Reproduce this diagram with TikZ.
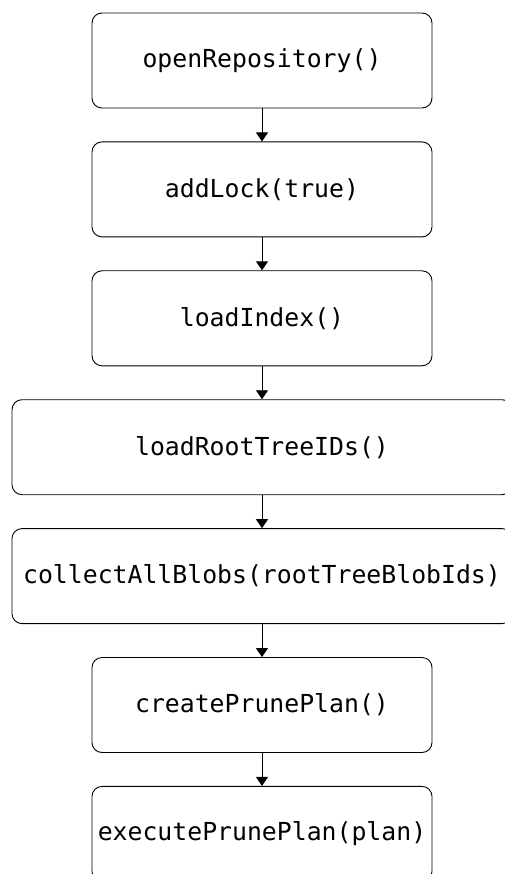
\documentclass[tikz,border=0pt]{standalone}
\usepackage{fontspec}
\setmonofont{DejaVu Sans Mono}
\usepackage{tikz}
\usetikzlibrary{positioning,arrows.meta}
\newcommand{\callnode}[4]{
	\node[callbox, minimum width=#4pt] (#1) [#2] {#3};
}

\begin{document}
\begin{tikzpicture}[x=1pt,y=-1pt,
	callbox/.style={draw, rounded corners=10pt, line width=0.9pt, minimum height=95pt, inner sep=0pt,
		font=\ttfamily\fontsize{24.8}{29}\selectfont},
	flow/.style={-{Triangle[length=9pt,width=12pt]}, line width=0.9pt}]
		\clip (0,0) rectangle (505,874);
		
		\node[callbox, minimum width=340pt] (open) at (262,60.5) {openRepository()};
		\callnode{lock}{below=33pt of open}{addLock(true)}{340};
		\callnode{index}{below=33pt of lock}{loadIndex()}{340};
		\callnode{roots}{below=33pt of index}{loadRootTreeIDs()}{500};%wider than page
		\callnode{blobs}{below=33pt of roots}{collectAllBlobs(rootTreeBlobIds)}{500};
		\callnode{plan}{below=33pt of blobs}{createPrunePlan()}{340};
		\callnode{exec}{below=33pt of plan}{executePrunePlan(plan)}{340};
		
		\draw[flow] (open) -- (lock);
		\draw[flow] (lock) -- (index);
		\draw[flow] (index) -- (roots);
		\draw[flow] (roots) -- (blobs);
		\draw[flow] (blobs) -- (plan);
		\draw[flow] (plan) -- (exec);
	\end{tikzpicture}
\end{document}
